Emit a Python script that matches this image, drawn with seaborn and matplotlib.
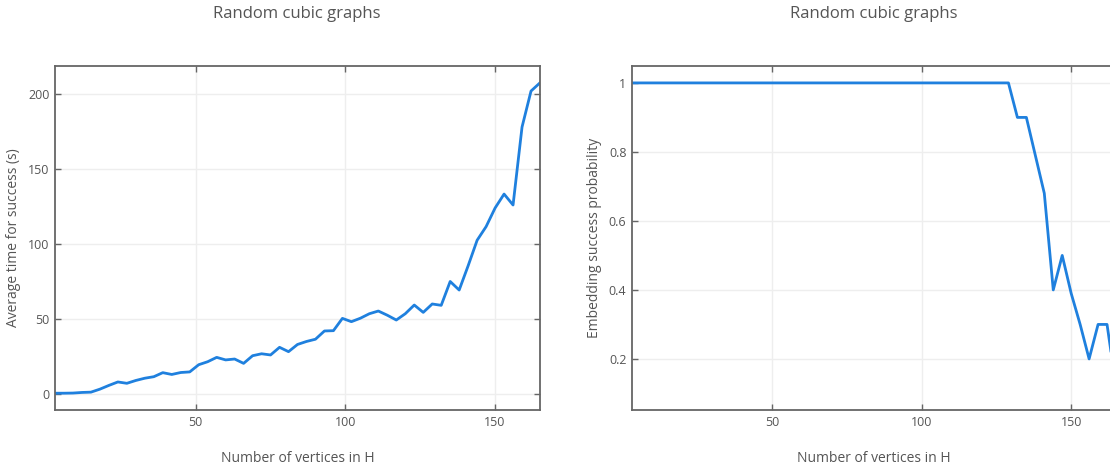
import seaborn as sns
import matplotlib.pyplot as plt
import pandas as pd

# vertices in H (every 3)
vertices = list(range(3, 166, 3))

avg_time = [0.5, 0.5, 0.6, 1.0, 1.2, 3.2, 5.7, 8.0, 7.1, 9.0,
            10.5, 11.5, 14.2, 13.0, 14.3, 14.7, 19.5, 21.5, 24.4, 22.7,
            23.3, 20.4, 25.5, 26.8, 26.0, 31.1, 28.2, 33.0, 35.0, 36.5,
            42.0, 42.2, 50.4, 48.2, 50.5, 53.5, 55.3, 52.5, 49.3, 53.5,
            59.3, 54.4, 60.0, 59.1, 75.0, 69.3, 85.5, 102.5, 111.6, 124.0,
            133.3, 126.0, 178.0, 202.0, 207.5]

success_prob = [1.0] * 42 + [1.0, 0.90, 0.90, 0.79, 0.68, 0.40, 0.50, 0.39,
                             0.30, 0.20, 0.30, 0.30, 0.12]

df = pd.DataFrame({"n": vertices, "time": avg_time, "prob": success_prob})

sns.set_theme(style="white")
plt.rcParams['font.family'] = ['Open Sans', 'DejaVu Sans']

line_color = "#1f80de"
text_color = "#555555"
spine_color = "#666666"

fig = plt.figure(figsize=(11.1, 4.68), dpi=100)
ax1 = fig.add_axes([55 / 1110, 58 / 468, 485 / 1110, 344 / 468])
ax2 = fig.add_axes([632 / 1110, 58 / 468, 484 / 1110, 344 / 468])

sns.lineplot(data=df, x="n", y="time", ax=ax1, color=line_color, linewidth=2)
sns.lineplot(data=df, x="n", y="prob", ax=ax2, color=line_color, linewidth=2)

ax1.set_xlim(3, 165)
ax1.set_ylim(-10.7, 218.7)
ax1.set_yticks([0, 50, 100, 150, 200])
ax1.set_yticklabels(["0", "50", "100", "150", "200"])
ax1.set_ylabel("Average time for success (s)", fontsize=10, color=text_color, labelpad=5)

ax2.set_xlim(3, 165)
ax2.set_ylim(0.052, 1.049)
ax2.set_yticks([0.2, 0.4, 0.6, 0.8, 1.0])
ax2.set_yticklabels(["0.2", "0.4", "0.6", "0.8", "1"])
ax2.set_ylabel("Embedding success probability", fontsize=10, color=text_color, labelpad=5)

for ax in (ax1, ax2):
    ax.set_xticks([50, 100, 150])
    ax.set_xticklabels(["50", "100", "150"])
    ax.set_xlabel("Number of vertices in H", fontsize=10, color=text_color, labelpad=16)
    ax.grid(True, color="#eeeeee", linewidth=1)
    ax.tick_params(axis="both", direction="in", length=4, width=1, color=spine_color,
                   labelsize=9, labelcolor=text_color, pad=4,
                   top=True, right=True, bottom=True, left=True)
    for s in ax.spines.values():
        s.set_color(spine_color)
        s.set_linewidth(1.3)

fig.text(297 / 1110, 1 - 14 / 468, "Random cubic graphs", ha="center", va="center",
         fontsize=12, color=text_color)
fig.text(874 / 1110, 1 - 14 / 468, "Random cubic graphs", ha="center", va="center",
         fontsize=12, color=text_color)

fig.savefig("out.png", dpi=100)
